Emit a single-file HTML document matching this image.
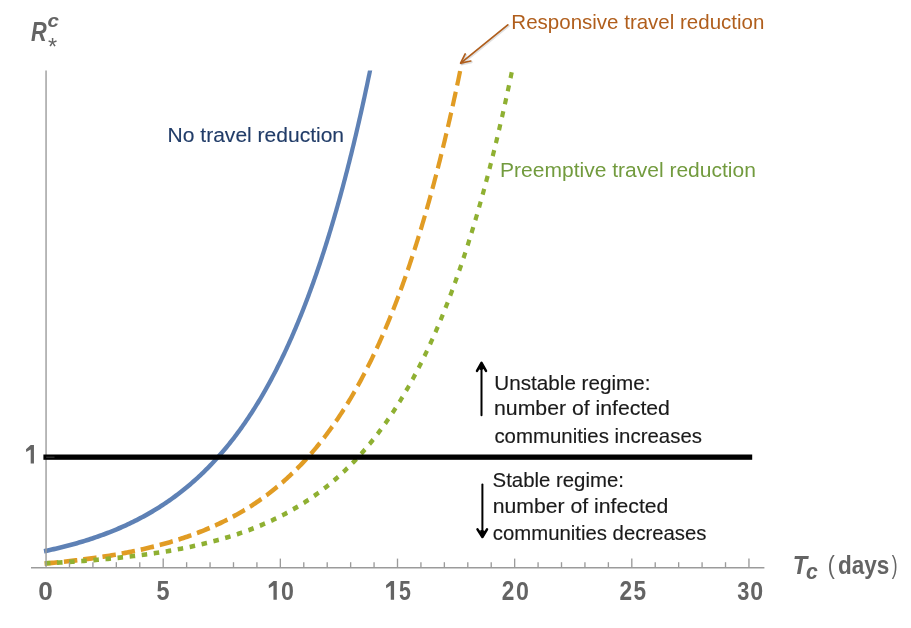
<!DOCTYPE html>
<html><head><meta charset="utf-8"><title>Chart</title>
<style>html,body{margin:0;padding:0;background:#fff;width:911px;height:628px;overflow:hidden}
text{font-family:"Liberation Sans",sans-serif}</style></head>
<body>
<svg width="911" height="628" viewBox="0 0 911 628" style="display:block;will-change:transform;font-family:'Liberation Sans',sans-serif"><rect width="911" height="628" fill="#fff"/>
<defs><clipPath id="cp"><rect x="0" y="70.5" width="911" height="560"/></clipPath></defs>
<g clip-path="url(#cp)"><g transform="scale(1,1.103)" fill="none" stroke-linecap="butt" stroke-linejoin="round">
<path d="M44.00,499.78 L45.96,499.41 L47.91,499.03 L49.87,498.64 L51.82,498.25 L53.77,497.85 L55.72,497.44 L57.67,497.02 L59.62,496.60 L61.56,496.17 L63.50,495.73 L65.44,495.28 L67.38,494.83 L69.31,494.37 L71.25,493.90 L73.18,493.42 L75.11,492.93 L77.03,492.44 L78.95,491.93 L80.87,491.42 L82.79,490.90 L84.71,490.37 L86.62,489.83 L88.52,489.28 L90.43,488.72 L92.33,488.15 L94.23,487.58 L96.12,486.99 L98.01,486.39 L99.90,485.79 L101.78,485.17 L103.66,484.55 L105.54,483.91 L107.41,483.27 L109.28,482.61 L111.14,481.94 L113.00,481.27 L114.85,480.58 L116.70,479.88 L118.55,479.17 L120.38,478.45 L122.22,477.72 L124.05,476.98 L125.87,476.23 L127.69,475.47 L129.50,474.69 L131.31,473.91 L133.11,473.11 L134.90,472.30 L136.69,471.48 L138.47,470.65 L140.25,469.81 L142.02,468.96 L143.78,468.09 L145.53,467.22 L147.28,466.33 L149.02,465.43 L150.76,464.52 L152.49,463.60 L154.21,462.67 L155.92,461.72 L157.62,460.77 L159.32,459.80 L161.01,458.82 L162.69,457.83 L164.36,456.83 L166.03,455.82 L167.68,454.79 L169.33,453.76 L170.97,452.71 L172.60,451.65 L174.23,450.58 L175.84,449.50 L177.44,448.41 L179.04,447.31 L180.63,446.20 L182.21,445.08 L183.77,443.94 L185.33,442.80 L186.88,441.65 L188.42,440.48 L189.96,439.31 L191.48,438.12 L192.99,436.93 L194.49,435.72 L195.99,434.51 L197.47,433.28 L198.95,432.05 L200.41,430.81 L201.87,429.55 L203.31,428.29 L204.75,427.02 L206.17,425.74 L207.59,424.45 L209.00,423.16 L210.40,421.85 L211.78,420.53 L213.16,419.21 L214.53,417.88 L215.89,416.54 L217.24,415.19 L218.58,413.84 L219.91,412.47 L221.23,411.10 L222.54,409.73 L223.84,408.34 L225.13,406.95 L226.41,405.55 L227.68,404.14 L228.95,402.73 L230.20,401.30 L231.45,399.88 L232.68,398.44 L233.91,397.00 L235.13,395.56 L236.34,394.10 L237.54,392.64 L238.73,391.18 L239.91,389.71 L241.08,388.23 L242.25,386.75 L243.40,385.26 L244.55,383.77 L245.69,382.27 L246.82,380.76 L247.94,379.25 L249.06,377.74 L250.16,376.22 L251.26,374.70 L252.35,373.17 L253.43,371.64 L254.50,370.10 L255.57,368.55 L256.62,367.01 L257.67,365.46 L258.72,363.90 L259.75,362.34 L260.78,360.78 L261.80,359.21 L262.81,357.64 L263.81,356.06 L264.81,354.48 L265.80,352.90 L266.78,351.31 L267.76,349.72 L268.73,348.13 L269.69,346.53 L270.64,344.93 L271.59,343.33 L272.53,341.72 L273.47,340.11 L274.40,338.50 L275.32,336.88 L276.23,335.26 L277.14,333.64 L278.04,332.01 L278.94,330.38 L279.83,328.75 L280.71,327.12 L281.59,325.48 L282.46,323.85 L283.33,322.20 L284.19,320.56 L285.04,318.91 L285.89,317.27 L286.74,315.61 L287.57,313.96 L288.40,312.31 L289.23,310.65 L290.05,308.99 L290.87,307.32 L291.68,305.66 L292.48,303.99 L293.28,302.33 L294.08,300.65 L294.86,298.98 L295.65,297.31 L296.43,295.63 L297.20,293.95 L297.97,292.27 L298.74,290.59 L299.49,288.91 L300.25,287.22 L301.00,285.54 L301.74,283.85 L302.49,282.16 L303.22,280.47 L303.95,278.77 L304.68,277.08 L305.40,275.38 L306.12,273.68 L306.84,271.98 L307.55,270.28 L308.25,268.58 L308.95,266.87 L309.65,265.17 L310.34,263.46 L311.03,261.76 L311.72,260.05 L312.40,258.34 L313.08,256.62 L313.75,254.91 L314.42,253.20 L315.08,251.48 L315.75,249.76 L316.40,248.05 L317.06,246.33 L317.71,244.61 L318.35,242.89 L319.00,241.16 L319.64,239.44 L320.27,237.72 L320.91,235.99 L321.54,234.27 L322.16,232.54 L322.78,230.81 L323.40,229.08 L324.02,227.35 L324.63,225.62 L325.24,223.89 L325.85,222.15 L326.45,220.42 L327.05,218.68 L327.64,216.95 L328.24,215.21 L328.83,213.47 L329.41,211.74 L330.00,210.00 L330.58,208.26 L331.16,206.52 L331.73,204.77 L332.30,203.03 L332.87,201.29 L333.44,199.55 L334.00,197.80 L334.56,196.06 L335.12,194.31 L335.68,192.56 L336.23,190.82 L336.78,189.07 L337.33,187.32 L337.87,185.57 L338.41,183.82 L338.95,182.07 L339.49,180.32 L340.02,178.57 L340.55,176.81 L341.08,175.06 L341.61,173.31 L342.13,171.55 L342.65,169.80 L343.17,168.04 L343.69,166.28 L344.20,164.53 L344.71,162.77 L345.22,161.01 L345.73,159.26 L346.23,157.50 L346.74,155.74 L347.24,153.98 L347.74,152.22 L348.23,150.46 L348.72,148.69 L349.22,146.93 L349.70,145.17 L350.19,143.41 L350.68,141.64 L351.16,139.88 L351.64,138.12 L352.12,136.35 L352.59,134.59 L353.07,132.82 L353.54,131.05 L354.01,129.29 L354.48,127.52 L354.94,125.75 L355.41,123.99 L355.87,122.22 L356.33,120.45 L356.79,118.68 L357.25,116.91 L357.70,115.14 L358.15,113.37 L358.60,111.60 L359.05,109.83 L359.50,108.06 L359.94,106.29 L360.39,104.52 L360.83,102.74 L361.27,100.97 L361.71,99.20 L362.14,97.42 L362.58,95.65 L363.01,93.88 L363.44,92.10 L363.87,90.33 L364.30,88.55 L364.72,86.78 L365.15,85.00 L365.57,83.23 L365.99,81.45 L366.41,79.67 L366.83,77.90 L367.25,76.12 L367.66,74.34 L368.07,72.56 L368.48,70.79 L368.89,69.01 L369.30,67.23 L369.71,65.45 L370.11,63.67 L370.52,61.89 L370.92,60.11 L371.32,58.33" stroke="#5E81B5" stroke-width="4.2"/>
<path d="M44.00,511.01 L45.99,510.85 L47.98,510.69 L49.98,510.52 L51.97,510.36 L53.96,510.18 L55.95,510.01 L57.94,509.83 L59.93,509.65 L61.92,509.46 L63.91,509.27 L65.90,509.08 L67.89,508.88 L69.87,508.68 L71.86,508.48 L73.85,508.27 L75.84,508.06 L77.82,507.84 L79.81,507.62 L81.79,507.40 L83.78,507.17 L85.76,506.94 L87.74,506.70 L89.73,506.46 L91.71,506.21 L93.69,505.96 L95.67,505.71 L97.65,505.45 L99.63,505.18 L101.61,504.91 L103.58,504.63 L105.56,504.35 L107.54,504.07 L109.51,503.78 L111.48,503.48 L113.46,503.18 L115.43,502.87 L117.40,502.56 L119.37,502.24 L121.33,501.91 L123.30,501.58 L125.27,501.24 L127.23,500.90 L129.19,500.55 L131.16,500.19 L133.12,499.83 L135.08,499.46 L137.03,499.08 L138.99,498.70 L140.94,498.31 L142.89,497.91 L144.84,497.50 L146.79,497.09 L148.74,496.67 L150.69,496.24 L152.63,495.81 L154.57,495.37 L156.51,494.92 L158.44,494.46 L160.38,493.99 L162.31,493.52 L164.24,493.04 L166.16,492.54 L168.09,492.04 L170.01,491.54 L171.93,491.02 L173.84,490.49 L175.76,489.96 L177.67,489.41 L179.57,488.86 L181.48,488.30 L183.38,487.73 L185.27,487.14 L187.16,486.55 L189.05,485.95 L190.94,485.34 L192.82,484.72 L194.70,484.09 L196.57,483.45 L198.44,482.80 L200.31,482.14 L202.17,481.47 L204.02,480.78 L205.87,480.09 L207.72,479.39 L209.56,478.68 L211.40,477.95 L213.23,477.21 L215.05,476.47 L216.87,475.71 L218.69,474.94 L220.50,474.16 L222.30,473.37 L224.10,472.57 L225.89,471.76 L227.68,470.93 L229.46,470.10 L231.23,469.25 L232.99,468.39 L234.75,467.52 L236.51,466.64 L238.25,465.75 L239.99,464.84 L241.72,463.93 L243.44,463.00 L245.16,462.06 L246.87,461.11 L248.57,460.15 L250.26,459.18 L251.95,458.19 L253.63,457.20 L255.30,456.19 L256.96,455.17 L258.61,454.14 L260.25,453.10 L261.89,452.05 L263.52,450.99 L265.13,449.91 L266.74,448.83 L268.34,447.73 L269.94,446.63 L271.52,445.51 L273.09,444.38 L274.66,443.24 L276.21,442.10 L277.76,440.94 L279.30,439.77 L280.82,438.59 L282.34,437.40 L283.85,436.20 L285.35,434.99 L286.84,433.77 L288.32,432.54 L289.79,431.30 L291.25,430.06 L292.70,428.80 L294.14,427.53 L295.57,426.26 L296.99,424.97 L298.40,423.68 L299.81,422.38 L301.20,421.07 L302.58,419.75 L303.96,418.42 L305.32,417.09 L306.67,415.75 L308.02,414.40 L309.35,413.04 L310.68,411.67 L312.00,410.30 L313.30,408.91 L314.60,407.53 L315.89,406.13 L317.17,404.73 L318.43,403.32 L319.69,401.90 L320.94,400.48 L322.19,399.05 L323.42,397.61 L324.64,396.16 L325.85,394.72 L327.06,393.26 L328.25,391.80 L329.44,390.33 L330.62,388.86 L331.79,387.38 L332.95,385.89 L334.10,384.40 L335.25,382.91 L336.38,381.41 L337.51,379.90 L338.63,378.39 L339.74,376.87 L340.84,375.35 L341.93,373.82 L343.02,372.29 L344.10,370.76 L345.17,369.22 L346.23,367.67 L347.28,366.12 L348.33,364.57 L349.37,363.01 L350.40,361.45 L351.42,359.89 L352.44,358.32 L353.45,356.74 L354.45,355.17 L355.44,353.59 L356.43,352.00 L357.41,350.41 L358.38,348.82 L359.35,347.23 L360.31,345.63 L361.26,344.03 L362.20,342.42 L363.14,340.81 L364.07,339.20 L365.00,337.59 L365.92,335.97 L366.83,334.35 L367.74,332.72 L368.64,331.10 L369.53,329.47 L370.42,327.84 L371.30,326.20 L372.18,324.56 L373.04,322.93 L373.91,321.28 L374.77,319.64 L375.62,317.99 L376.46,316.34 L377.31,314.69 L378.14,313.03 L378.97,311.38 L379.79,309.72 L380.61,308.06 L381.43,306.40 L382.23,304.73 L383.04,303.06 L383.83,301.39 L384.63,299.72 L385.41,298.05 L386.19,296.37 L386.97,294.70 L387.74,293.02 L388.51,291.34 L389.27,289.65 L390.03,287.97 L390.78,286.28 L391.53,284.60 L392.28,282.91 L393.02,281.22 L393.75,279.52 L394.48,277.83 L395.21,276.13 L395.93,274.44 L396.64,272.74 L397.36,271.04 L398.06,269.34 L398.77,267.63 L399.47,265.93 L400.16,264.22 L400.86,262.52 L401.54,260.81 L402.23,259.10 L402.91,257.39 L403.58,255.68 L404.25,253.96 L404.92,252.25 L405.59,250.53 L406.25,248.81 L406.90,247.10 L407.55,245.38 L408.20,243.66 L408.85,241.94 L409.49,240.21 L410.13,238.49 L410.76,236.76 L411.40,235.04 L412.02,233.31 L412.65,231.58 L413.27,229.86 L413.89,228.13 L414.50,226.39 L415.11,224.66 L415.72,222.93 L416.33,221.20 L416.93,219.46 L417.53,217.73 L418.12,215.99 L418.71,214.25 L419.30,212.52 L419.89,210.78 L420.47,209.04 L421.05,207.30 L421.63,205.56 L422.20,203.82 L422.77,202.07 L423.34,200.33 L423.91,198.59 L424.47,196.84 L425.03,195.10 L425.58,193.35 L426.14,191.60 L426.69,189.86 L427.24,188.11 L427.79,186.36 L428.33,184.61 L428.87,182.86 L429.41,181.11 L429.94,179.36 L430.48,177.60 L431.01,175.85 L431.53,174.10 L432.06,172.34 L432.58,170.59 L433.10,168.83 L433.62,167.08 L434.14,165.32 L434.65,163.56 L435.16,161.81 L435.67,160.05 L436.18,158.29 L436.68,156.53 L437.18,154.77 L437.68,153.01 L438.18,151.25 L438.67,149.49 L439.17,147.73 L439.66,145.97 L440.14,144.20 L440.63,142.44 L441.11,140.68 L441.60,138.91 L442.08,137.15 L442.55,135.39 L443.03,133.62 L443.50,131.85 L443.97,130.09 L444.44,128.32 L444.91,126.55 L445.38,124.79 L445.84,123.02 L446.30,121.25 L446.76,119.48 L447.22,117.71 L447.68,115.94 L448.13,114.17 L448.58,112.40 L449.03,110.63 L449.48,108.86 L449.93,107.09 L450.37,105.32 L450.81,103.55 L451.25,101.78 L451.69,100.00 L452.13,98.23 L452.57,96.46 L453.00,94.68 L453.43,92.91 L453.86,91.13 L454.29,89.36 L454.72,87.58 L455.15,85.81 L455.57,84.03 L455.99,82.26 L456.41,80.48 L456.83,78.70 L457.25,76.93 L457.66,75.15 L458.08,73.37 L458.49,71.59 L458.90,69.82 L459.31,68.04 L459.72,66.26 L460.12,64.48 L460.53,62.70 L460.93,60.92 L461.33,59.14 L461.73,57.36" stroke="#E19C24" stroke-width="4.2" stroke-dasharray="13.47 5.94" stroke-dashoffset="-0.59"/>
<path d="M44.00,510.77 L46.00,510.67 L47.99,510.58 L49.99,510.48 L51.99,510.38 L53.99,510.28 L55.98,510.18 L57.98,510.07 L59.98,509.96 L61.97,509.86 L63.97,509.74 L65.96,509.63 L67.96,509.51 L69.96,509.40 L71.95,509.28 L73.95,509.15 L75.94,509.03 L77.94,508.90 L79.93,508.77 L81.93,508.64 L83.92,508.50 L85.92,508.37 L87.91,508.23 L89.90,508.08 L91.90,507.94 L93.89,507.79 L95.89,507.64 L97.88,507.48 L99.87,507.32 L101.86,507.16 L103.85,507.00 L105.85,506.83 L107.84,506.66 L109.83,506.49 L111.82,506.31 L113.81,506.13 L115.80,505.95 L117.79,505.76 L119.78,505.57 L121.77,505.37 L123.76,505.18 L125.74,504.97 L127.73,504.77 L129.72,504.56 L131.70,504.34 L133.69,504.13 L135.67,503.90 L137.66,503.68 L139.64,503.45 L141.63,503.21 L143.61,502.97 L145.59,502.73 L147.57,502.48 L149.55,502.22 L151.53,501.96 L153.51,501.70 L155.49,501.43 L157.47,501.16 L159.44,500.88 L161.42,500.59 L163.40,500.30 L165.37,500.01 L167.34,499.71 L169.31,499.40 L171.28,499.09 L173.25,498.77 L175.22,498.45 L177.19,498.12 L179.16,497.78 L181.12,497.44 L183.08,497.09 L185.05,496.74 L187.01,496.37 L188.97,496.01 L190.92,495.63 L192.88,495.25 L194.83,494.86 L196.79,494.46 L198.74,494.06 L200.69,493.65 L202.63,493.23 L204.58,492.81 L206.52,492.37 L208.46,491.93 L210.40,491.48 L212.34,491.02 L214.27,490.56 L216.20,490.09 L218.13,489.60 L220.06,489.11 L221.98,488.61 L223.91,488.11 L225.82,487.59 L227.74,487.07 L229.65,486.53 L231.56,485.99 L233.47,485.44 L235.37,484.87 L237.27,484.30 L239.17,483.72 L241.06,483.13 L242.95,482.53 L244.84,481.92 L246.72,481.30 L248.60,480.67 L250.47,480.03 L252.34,479.38 L254.20,478.71 L256.06,478.04 L257.92,477.36 L259.77,476.67 L261.62,475.96 L263.46,475.25 L265.29,474.52 L267.12,473.79 L268.95,473.04 L270.77,472.28 L272.58,471.51 L274.39,470.73 L276.20,469.94 L277.99,469.13 L279.78,468.32 L281.57,467.49 L283.35,466.66 L285.12,465.81 L286.88,464.95 L288.64,464.08 L290.39,463.19 L292.14,462.30 L293.87,461.39 L295.60,460.47 L297.32,459.54 L299.04,458.60 L300.75,457.65 L302.45,456.69 L304.14,455.71 L305.82,454.72 L307.50,453.72 L309.16,452.71 L310.82,451.69 L312.47,450.66 L314.11,449.62 L315.75,448.56 L317.37,447.50 L318.99,446.42 L320.59,445.33 L322.19,444.23 L323.78,443.12 L325.36,442.00 L326.93,440.87 L328.49,439.73 L330.05,438.58 L331.59,437.41 L333.12,436.24 L334.65,435.06 L336.16,433.87 L337.66,432.66 L339.16,431.45 L340.65,430.23 L342.12,428.99 L343.59,427.75 L345.04,426.50 L346.49,425.24 L347.93,423.97 L349.35,422.69 L350.77,421.40 L352.18,420.11 L353.58,418.80 L354.97,417.49 L356.34,416.16 L357.71,414.83 L359.07,413.49 L360.42,412.15 L361.76,410.79 L363.09,409.43 L364.41,408.06 L365.72,406.68 L367.02,405.29 L368.32,403.90 L369.60,402.50 L370.87,401.09 L372.14,399.68 L373.39,398.26 L374.63,396.83 L375.87,395.40 L377.10,393.96 L378.31,392.51 L379.52,391.05 L380.72,389.60 L381.91,388.13 L383.09,386.66 L384.27,385.18 L385.43,383.70 L386.59,382.21 L387.73,380.72 L388.87,379.22 L390.00,377.71 L391.12,376.20 L392.23,374.69 L393.34,373.17 L394.43,371.64 L395.52,370.11 L396.60,368.58 L397.67,367.04 L398.74,365.50 L399.79,363.95 L400.84,362.40 L401.88,360.84 L402.91,359.28 L403.94,357.71 L404.96,356.15 L405.97,354.57 L406.97,353.00 L407.97,351.42 L408.95,349.83 L409.94,348.24 L410.91,346.65 L411.88,345.06 L412.84,343.46 L413.79,341.86 L414.74,340.25 L415.68,338.65 L416.61,337.03 L417.53,335.42 L418.45,333.80 L419.37,332.18 L420.27,330.56 L421.17,328.93 L422.07,327.30 L422.96,325.67 L423.84,324.04 L424.72,322.40 L425.58,320.76 L426.45,319.12 L427.31,317.47 L428.16,315.83 L429.01,314.18 L429.85,312.53 L430.68,310.87 L431.51,309.22 L432.33,307.56 L433.15,305.90 L433.97,304.23 L434.77,302.57 L435.58,300.90 L436.37,299.23 L437.17,297.56 L437.95,295.88 L438.73,294.21 L439.51,292.53 L440.28,290.85 L441.05,289.17 L441.81,287.49 L442.57,285.81 L443.32,284.12 L444.07,282.43 L444.81,280.74 L445.55,279.05 L446.28,277.36 L447.01,275.66 L447.74,273.97 L448.46,272.27 L449.18,270.57 L449.89,268.87 L450.59,267.17 L451.30,265.47 L452.00,263.76 L452.69,262.05 L453.38,260.35 L454.07,258.64 L454.75,256.93 L455.43,255.22 L456.10,253.50 L456.78,251.79 L457.44,250.08 L458.11,248.36 L458.76,246.64 L459.42,244.92 L460.07,243.20 L460.72,241.48 L461.36,239.76 L462.01,238.04 L462.64,236.31 L463.28,234.59 L463.91,232.86 L464.53,231.14 L465.16,229.41 L465.78,227.68 L466.39,225.95 L467.01,224.22 L467.62,222.49 L468.22,220.75 L468.83,219.02 L469.43,217.28 L470.02,215.55 L470.62,213.81 L471.21,212.07 L471.80,210.34 L472.38,208.60 L472.96,206.86 L473.54,205.12 L474.12,203.38 L474.69,201.63 L475.26,199.89 L475.83,198.15 L476.39,196.40 L476.95,194.66 L477.51,192.91 L478.06,191.16 L478.62,189.42 L479.17,187.67 L479.71,185.92 L480.26,184.17 L480.80,182.42 L481.34,180.67 L481.88,178.92 L482.41,177.17 L482.94,175.42 L483.47,173.66 L484.00,171.91 L484.52,170.15 L485.04,168.40 L485.56,166.64 L486.08,164.89 L486.59,163.13 L487.10,161.37 L487.61,159.62 L488.12,157.86 L488.63,156.10 L489.13,154.34 L489.63,152.58 L490.13,150.82 L490.62,149.06 L491.12,147.30 L491.61,145.53 L492.10,143.77 L492.58,142.01 L493.07,140.25 L493.55,138.48 L494.03,136.72 L494.51,134.95 L494.98,133.19 L495.46,131.42 L495.93,129.66 L496.40,127.89 L496.87,126.12 L497.33,124.36 L497.80,122.59 L498.26,120.82 L498.72,119.05 L499.18,117.28 L499.63,115.51 L500.09,113.74 L500.54,111.97 L500.99,110.20 L501.44,108.43 L501.89,106.66 L502.33,104.89 L502.77,103.12 L503.21,101.34 L503.65,99.57 L504.09,97.80 L504.53,96.02 L504.96,94.25 L505.39,92.48 L505.83,90.70 L506.25,88.93 L506.68,87.15 L507.11,85.38 L507.53,83.60 L507.95,81.83 L508.37,80.05 L508.79,78.27 L509.21,76.50 L509.63,74.72 L510.04,72.94 L510.45,71.16 L510.86,69.38 L511.27,67.61 L511.68,65.83 L512.09,64.05 L512.49,62.27 L512.89,60.49 L513.30,58.71 L513.70,56.93" stroke="#8FB032" stroke-width="4.2" stroke-dasharray="5.52 6.62" stroke-dashoffset="-0.89"/>
</g></g>
<line x1="46.05" y1="70.5" x2="46.05" y2="567.8" stroke="#9b9b9b" stroke-width="1.4"/>
<line x1="31" y1="567.8" x2="764.4" y2="567.8" stroke="#9b9b9b" stroke-width="1.5"/>
<line x1="69.48" y1="562.20" x2="69.48" y2="567.8" stroke="#9b9b9b" stroke-width="1.35"/>
<line x1="92.91" y1="562.20" x2="92.91" y2="567.8" stroke="#9b9b9b" stroke-width="1.35"/>
<line x1="116.34" y1="562.20" x2="116.34" y2="567.8" stroke="#9b9b9b" stroke-width="1.35"/>
<line x1="139.77" y1="562.20" x2="139.77" y2="567.8" stroke="#9b9b9b" stroke-width="1.35"/>
<line x1="163.20" y1="558.60" x2="163.20" y2="567.8" stroke="#9b9b9b" stroke-width="1.35"/>
<line x1="186.63" y1="562.20" x2="186.63" y2="567.8" stroke="#9b9b9b" stroke-width="1.35"/>
<line x1="210.06" y1="562.20" x2="210.06" y2="567.8" stroke="#9b9b9b" stroke-width="1.35"/>
<line x1="233.49" y1="562.20" x2="233.49" y2="567.8" stroke="#9b9b9b" stroke-width="1.35"/>
<line x1="256.92" y1="562.20" x2="256.92" y2="567.8" stroke="#9b9b9b" stroke-width="1.35"/>
<line x1="280.35" y1="558.60" x2="280.35" y2="567.8" stroke="#9b9b9b" stroke-width="1.35"/>
<line x1="303.78" y1="562.20" x2="303.78" y2="567.8" stroke="#9b9b9b" stroke-width="1.35"/>
<line x1="327.21" y1="562.20" x2="327.21" y2="567.8" stroke="#9b9b9b" stroke-width="1.35"/>
<line x1="350.64" y1="562.20" x2="350.64" y2="567.8" stroke="#9b9b9b" stroke-width="1.35"/>
<line x1="374.07" y1="562.20" x2="374.07" y2="567.8" stroke="#9b9b9b" stroke-width="1.35"/>
<line x1="397.50" y1="558.60" x2="397.50" y2="567.8" stroke="#9b9b9b" stroke-width="1.35"/>
<line x1="420.93" y1="562.20" x2="420.93" y2="567.8" stroke="#9b9b9b" stroke-width="1.35"/>
<line x1="444.36" y1="562.20" x2="444.36" y2="567.8" stroke="#9b9b9b" stroke-width="1.35"/>
<line x1="467.79" y1="562.20" x2="467.79" y2="567.8" stroke="#9b9b9b" stroke-width="1.35"/>
<line x1="491.22" y1="562.20" x2="491.22" y2="567.8" stroke="#9b9b9b" stroke-width="1.35"/>
<line x1="514.65" y1="558.60" x2="514.65" y2="567.8" stroke="#9b9b9b" stroke-width="1.35"/>
<line x1="538.08" y1="562.20" x2="538.08" y2="567.8" stroke="#9b9b9b" stroke-width="1.35"/>
<line x1="561.51" y1="562.20" x2="561.51" y2="567.8" stroke="#9b9b9b" stroke-width="1.35"/>
<line x1="584.94" y1="562.20" x2="584.94" y2="567.8" stroke="#9b9b9b" stroke-width="1.35"/>
<line x1="608.37" y1="562.20" x2="608.37" y2="567.8" stroke="#9b9b9b" stroke-width="1.35"/>
<line x1="631.80" y1="558.60" x2="631.80" y2="567.8" stroke="#9b9b9b" stroke-width="1.35"/>
<line x1="655.23" y1="562.20" x2="655.23" y2="567.8" stroke="#9b9b9b" stroke-width="1.35"/>
<line x1="678.66" y1="562.20" x2="678.66" y2="567.8" stroke="#9b9b9b" stroke-width="1.35"/>
<line x1="702.09" y1="562.20" x2="702.09" y2="567.8" stroke="#9b9b9b" stroke-width="1.35"/>
<line x1="725.52" y1="562.20" x2="725.52" y2="567.8" stroke="#9b9b9b" stroke-width="1.35"/>
<line x1="748.95" y1="558.60" x2="748.95" y2="567.8" stroke="#9b9b9b" stroke-width="1.35"/>
<rect x="43.4" y="454.5" width="708.8" height="5.3" fill="#000"/>
<line x1="46.2" y1="457.2" x2="54.5" y2="457.2" stroke="#3a3a3a" stroke-width="1.1"/>
<text transform="translate(38.35,599.74) scale(0.9838,0.9954)" font-size="26.6" fill="#646464"><tspan font-weight='bold'>0</tspan></text>
<text transform="translate(156.40,599.73) scale(0.8797,1.0097)" font-size="26.6" fill="#646464"><tspan font-weight='bold'>5</tspan></text>
<polygon fill="#646464" points="273.51,580.90 276.78,580.90 276.78,599.70 273.46,599.70 273.46,585.60 268.93,588.23 268.70,585.32"/>
<text transform="translate(281.07,599.74) scale(0.8719,0.9954)" font-size="26.6" fill="#646464"><tspan font-weight='bold'>0</tspan></text>
<polygon fill="#646464" points="390.81,580.90 394.08,580.90 394.08,599.70 390.76,599.70 390.76,585.60 386.23,588.23 386.00,585.32"/>
<text transform="translate(398.96,599.73) scale(0.8045,1.0097)" font-size="26.6" fill="#646464"><tspan font-weight='bold'>5</tspan></text>
<text transform="translate(501.82,600.00) scale(0.8516,1.0097)" font-size="26.6" fill="#646464"><tspan font-weight='bold'>2</tspan></text>
<text transform="translate(516.07,599.74) scale(0.8719,0.9954)" font-size="26.6" fill="#646464"><tspan font-weight='bold'>0</tspan></text>
<text transform="translate(619.52,600.00) scale(0.8516,1.0097)" font-size="26.6" fill="#646464"><tspan font-weight='bold'>2</tspan></text>
<text transform="translate(633.62,599.73) scale(0.8496,1.0097)" font-size="26.6" fill="#646464"><tspan font-weight='bold'>5</tspan></text>
<text transform="translate(737.26,599.74) scale(0.8195,0.9954)" font-size="26.6" fill="#646464"><tspan font-weight='bold'>3</tspan></text>
<text transform="translate(750.37,599.74) scale(0.8719,0.9954)" font-size="26.6" fill="#646464"><tspan font-weight='bold'>0</tspan></text>
<polygon fill="#646464" points="30.74,444.90 33.95,444.90 33.95,463.40 30.68,463.40 30.68,449.52 26.22,452.11 26.00,449.25"/>
<text transform="translate(167.62,142.00) scale(1.0463,1.0000)" font-size="20.1" fill="#213C68" stroke="#213C68" stroke-width="0.12">No travel reduction</text>
<text transform="translate(511.36,28.70) scale(1.0207,1.0000)" font-size="20.1" fill="#B05E1C" stroke="#B05E1C" stroke-width="0">Responsive travel reduction</text>
<text transform="translate(500.02,176.80) scale(1.0463,1.0000)" font-size="20.1" fill="#729B3E" stroke="#729B3E" stroke-width="0">Preemptive travel reduction</text>
<text transform="translate(494.35,389.80) scale(1.0280,1.0000)" font-size="20.1" fill="#1a1a1a" stroke="#1a1a1a" stroke-width="0.15">Unstable regime:</text>
<text transform="translate(494.01,415.40) scale(1.0573,1.0000)" font-size="20.1" fill="#1a1a1a" stroke="#1a1a1a" stroke-width="0.15">number of infected</text>
<text transform="translate(494.38,443.00) scale(1.0157,1.0000)" font-size="20.1" fill="#1a1a1a" stroke="#1a1a1a" stroke-width="0.15">communities increases</text>
<text transform="translate(492.58,487.30) scale(1.0139,1.0000)" font-size="20.1" fill="#1a1a1a" stroke="#1a1a1a" stroke-width="0.15">Stable regime:</text>
<text transform="translate(492.71,513.40) scale(1.0555,1.0000)" font-size="20.1" fill="#1a1a1a" stroke="#1a1a1a" stroke-width="0.15">number of infected</text>
<text transform="translate(492.79,540.40) scale(1.0122,1.0000)" font-size="20.1" fill="#1a1a1a" stroke="#1a1a1a" stroke-width="0.15">communities decreases</text>
<g stroke="#000" stroke-width="2.0" fill="none" stroke-linecap="round" stroke-linejoin="round">
<line x1="481.5" y1="364" x2="481.5" y2="415.3"/><polyline points="477.0,370.9 481.5,362.9 486.0,370.9" stroke-width="2.5"/><polygon points="478.5,368.2 481.5,362.9 484.5,368.2 481.5,369.5" fill="#000" stroke-width="1"/>
<line x1="482.4" y1="484.4" x2="482.4" y2="535.5"/><polyline points="477.5,529.3 482.4,537.0 487.0,529.3" stroke-width="2.5"/><polygon points="479.2,531.8 482.4,537.0 485.5,531.8 482.4,530.5" fill="#000" stroke-width="1"/>
</g>
<g stroke="#000" stroke-opacity="0.12" stroke-width="2.2" fill="none" stroke-linecap="round" stroke-linejoin="round" transform="translate(0.9,1.1)"><line x1="507.8" y1="24.8" x2="461" y2="62.8"/><polyline points="465.2,53.9 460.6,63.2 470.8,61.0"/></g>
<g stroke="#B05E1C" stroke-width="1.7" fill="none" stroke-linecap="round" stroke-linejoin="round">
<line x1="507.8" y1="24.8" x2="461" y2="62.8"/><polyline points="465.2,53.9 460.6,63.2 470.8,61.0"/>
</g>
<text transform="translate(31.07,40.90) scale(0.8361,1.0312)" font-size="26" fill="#646464"><tspan font-weight='bold' font-style='italic'>R</tspan></text>
<text transform="translate(47.48,27.31) scale(1.0294,0.9273)" font-size="20" fill="#646464"><tspan font-weight='bold' font-style='italic'>c</tspan></text>
<text transform="translate(48.03,54.67) scale(1.1714,1.1714)" font-size="20" fill="#646464">*</text>
<text transform="translate(792.85,573.50) scale(0.9079,0.9866)" font-size="26" fill="#646464"><tspan font-weight='bold' font-style='italic'>T</tspan></text>
<text transform="translate(805.96,578.79) scale(1.0588,1.0727)" font-size="20" fill="#646464"><tspan font-weight='bold' font-style='italic'>c</tspan></text>
<text transform="translate(827.73,574.04) scale(0.8136,0.9820)" font-size="26" fill="#646464">(</text>
<text transform="translate(838.00,574.21) scale(0.8671,0.9697)" font-size="26" fill="#646464"><tspan font-weight='bold'>days</tspan></text>
<text transform="translate(891.83,574.04) scale(0.6657,0.9820)" font-size="26" fill="#646464">)</text></svg>
</body></html>
